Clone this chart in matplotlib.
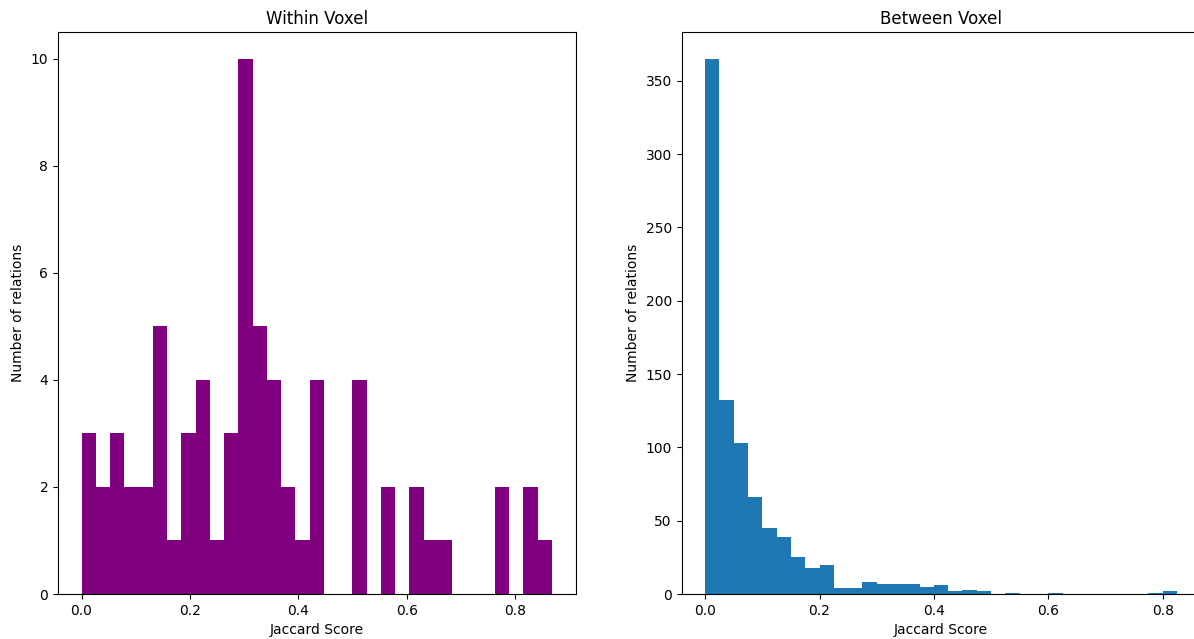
import numpy as np
import matplotlib
matplotlib.use("Agg")
import matplotlib.pyplot as plt

# ── data (counts per histogram bin) ──────────────────────────────────────────
WITHIN_MAX = 0.868
within_counts = [3, 2, 3, 2, 2, 5, 1, 3, 4, 1, 3, 10, 5, 4, 2, 1, 4,
                 0, 0, 4, 0, 2, 0, 2, 1, 1, 0, 0, 0, 2, 0, 2, 1]

BETWEEN_MAX = 0.825
between_counts = [365, 132, 103, 66, 45, 39, 25, 18, 20, 4, 4, 8, 7, 7, 7, 5, 6,
                  2, 3, 2, 0, 1, 0, 0, 1, 0, 0, 0, 0, 0, 0, 1, 2]


def draw_hist(ax, counts, vmax, color, title):
    edges = np.linspace(0, vmax, len(counts) + 1)
    centers = 0.5 * (edges[:-1] + edges[1:])
    ax.hist(centers, bins=edges, weights=counts, color=color)
    ax.set_title(title)
    ax.set_xlabel("Jaccard Score")
    ax.set_ylabel("Number of relations")


fig = plt.figure(figsize=(11.94, 6.39), dpi=100)
ax1 = fig.add_axes([0.0486, 0.0704, 0.4334, 0.8795])
# right panel runs slightly past the picture's right edge, as in the reference
ax2 = fig.add_axes([0.5708, 0.0704, 0.4347, 0.8795])

draw_hist(ax1, within_counts, WITHIN_MAX, "purple", "Within Voxel")
draw_hist(ax2, between_counts, BETWEEN_MAX, "#1f77b4", "Between Voxel")

ax1.set_xticks([0.0, 0.2, 0.4, 0.6, 0.8])
ax2.set_xticks([0.0, 0.2, 0.4, 0.6, 0.8])
ax2.set_yticks(range(0, 351, 50))

fig.savefig("out.png", dpi=100)
